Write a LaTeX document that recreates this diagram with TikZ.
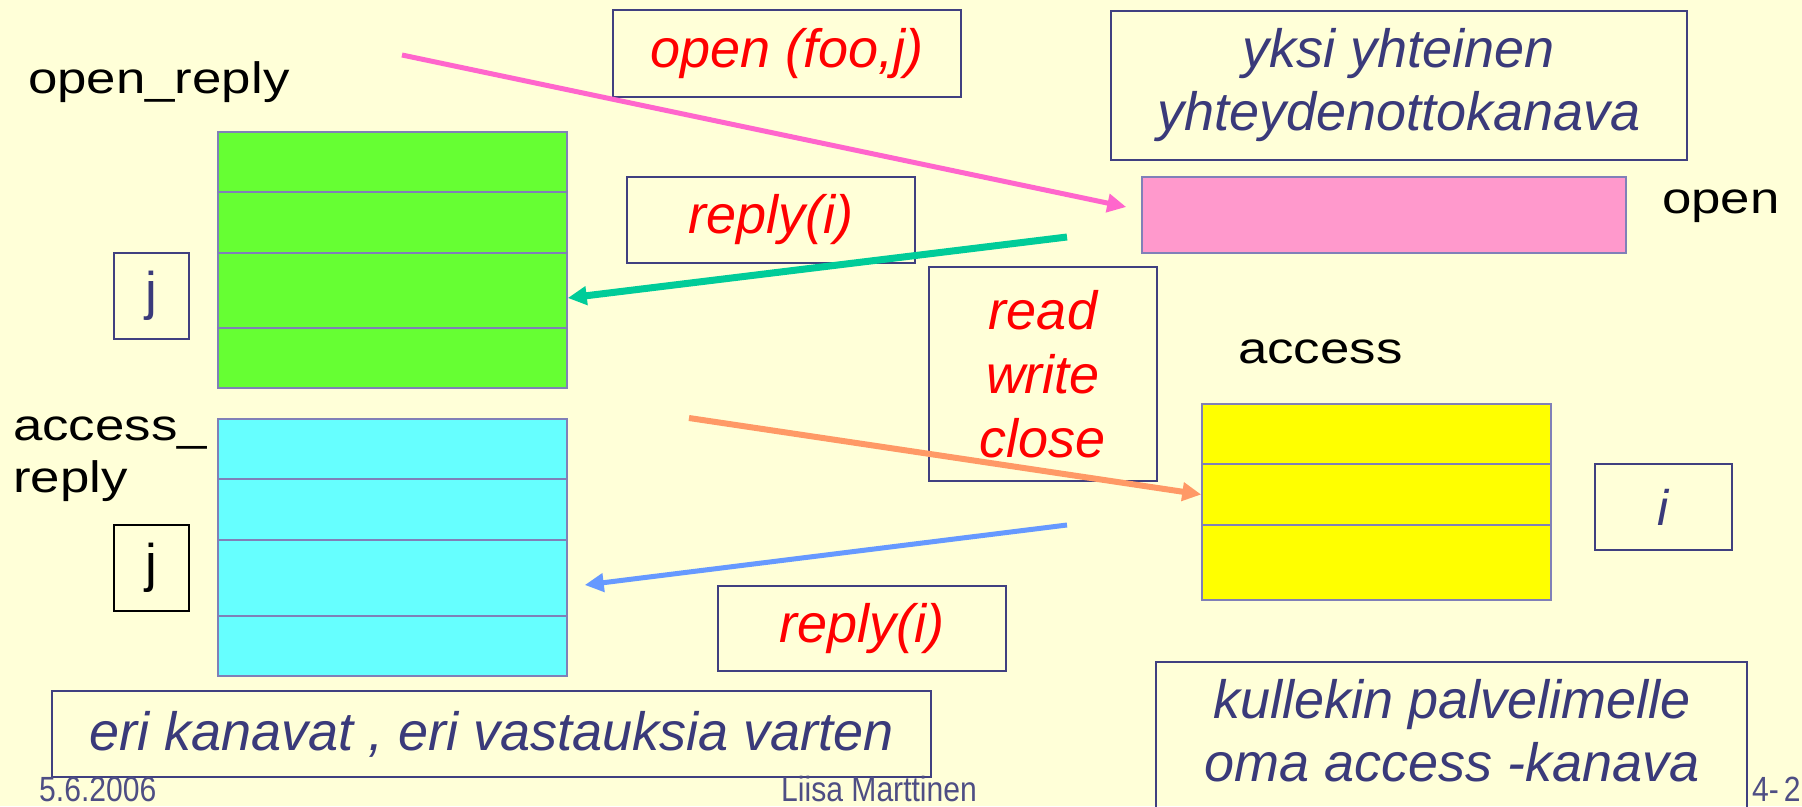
\documentclass[tikz,border=0pt]{standalone}
\usepackage{fontspec}
\setmainfont{Liberation Sans}
\newfontfamily\lblfont[FakeStretch=1.2]{Liberation Sans}
\newfontfamily\footfont[FakeStretch=0.86]{Liberation Sans}
\usetikzlibrary{arrows.meta}

\definecolor{pagebg}{RGB}{255,255,216}
\definecolor{boxline}{RGB}{64,64,128}
\definecolor{navy}{RGB}{58,58,122}
\definecolor{footblue}{RGB}{78,78,132}
\definecolor{cellline}{RGB}{128,128,184}
\definecolor{greencell}{RGB}{102,255,51}
\definecolor{cyancell}{RGB}{102,255,255}
\definecolor{pinkcell}{RGB}{255,153,204}
\definecolor{yellowcell}{RGB}{255,255,0}
\definecolor{pinkarrow}{RGB}{255,102,204}
\definecolor{tealarrow}{RGB}{0,204,153}
\definecolor{orangearrow}{RGB}{255,153,102}
\definecolor{bluearrow}{RGB}{102,153,255}

\tikzset{
  bx/.style={draw=boxline, line width=2pt, inner sep=0pt},
  redtxt/.style={text=red, font=\fontsize{54pt}{64pt}\selectfont\itshape, align=center},
  bluetxt/.style={text=navy, font=\fontsize{54pt}{63pt}\selectfont\itshape, align=center},
  lbl/.style={text=black, font=\lblfont\fontsize{44pt}{52pt}\selectfont, inner sep=0pt},
  foot/.style={text=footblue, font=\footfont\fontsize{35pt}{40pt}\selectfont, inner sep=0pt},
  cell/.style={draw=cellline, line width=1.5pt, minimum width=349pt, inner sep=0pt},
  conn/.style={line width=#1, -{Triangle[length=19pt,width=18pt]}},
}

\begin{document}
\begin{tikzpicture}[x=1pt,y=-1pt]
\fill[pagebg] (0,0) rectangle (1802,806);
\useasboundingbox (0,0) rectangle (1802,806);

% reply channels of the client
\node[lbl, anchor=base west] (openreplylbl) at (28,93) {open\_reply};
\node[cell, fill=greencell, minimum height=60pt] (g1) at (392.5,162) {};
\node[cell, fill=greencell, minimum height=61pt] (g2) at (392.5,222.5) {};
\node[cell, fill=greencell, minimum height=75pt] (g3) at (392.5,290.5) {};
\node[cell, fill=greencell, minimum height=60pt] (g4) at (392.5,358) {};
\node[bx, minimum width=75pt, minimum height=86pt, text=navy,
      font=\fontsize{53pt}{60pt}\selectfont] (j1) at (151,296) {j};

\node[lbl, anchor=base west] (accreply1) at (13,440) {access\_};
\node[lbl, anchor=base west] (accreply2) at (13,492) {reply};
\node[cell, fill=cyancell, minimum height=60pt] (c1) at (392.5,449) {};
\node[cell, fill=cyancell, minimum height=61pt] (c2) at (392.5,509.5) {};
\node[cell, fill=cyancell, minimum height=76pt] (c3) at (392.5,578) {};
\node[cell, fill=cyancell, minimum height=60pt] (c4) at (392.5,646) {};
\node[draw=black, line width=2pt, inner sep=0pt, minimum width=75pt, minimum height=86pt,
      text=black, font=\fontsize{53pt}{60pt}\selectfont] (j2) at (151,568) {j};

% message boxes
\node[bx, redtxt, minimum width=348pt, minimum height=87pt] (openfoo) at (787,53.5) {open (foo,j)};
\node[bx, redtxt, minimum width=288pt, minimum height=86pt] (reply1) at (771,220) {reply(i)};
\node[bx, redtxt, minimum width=228pt, minimum height=214pt] (rwc) at (1043,374) {read\\write\\close};
\node[bx, redtxt, minimum width=288pt, minimum height=85pt] (reply2) at (862,628.5) {reply(i)};

% server side channels
\node[bx, bluetxt, minimum width=576pt, minimum height=149pt] (yksi) at (1399,85.5) {yksi yhteinen\\yhteydenottokanava};
\node[cell, fill=pinkcell, minimum width=484pt, minimum height=76pt] (openq) at (1384,215) {};
\node[lbl, anchor=base west] (openlbl) at (1662,213) {open};

\node[lbl, anchor=base west] (accesslbl) at (1238,363) {access};
\node[cell, fill=yellowcell, minimum height=60pt] (y1) at (1376.5,434) {};
\node[cell, fill=yellowcell, minimum height=61pt] (y2) at (1376.5,494.5) {};
\node[cell, fill=yellowcell, minimum height=75pt] (y3) at (1376.5,562.5) {};
\node[bx, minimum width=137pt, minimum height=86pt, text=navy,
      font=\fontsize{50pt}{58pt}\selectfont\itshape] (ibox) at (1663.5,507) {i};

% notes
\node[bx, bluetxt, minimum width=879pt, minimum height=86pt] (eri) at (491.5,734) {eri kanavat , eri vastauksia varten};
\node[bx, minimum width=591pt, minimum height=200pt, anchor=north] (kul) at (1451.5,661) {};
\node[bluetxt, inner sep=0pt] (kultxt) at (1452,731) {kullekin palvelimelle\\oma access -kanava};

% footer
\node[foot, anchor=base west] (date) at (39,801) {5.6.2006};
\node[foot, anchor=base west] (author) at (781,801) {Liisa Marttinen};
\node[foot, anchor=base west] (page) at (1752,801) {4-\hspace{5pt}2};

% messages
\coordinate (ps) at (402,55);
\coordinate (ts) at (1067,237);
\coordinate (os) at (689,418);
\coordinate (bs) at (1067,525);
\draw[conn=5pt, pinkarrow] (ps) -- ([xshift=-15pt,yshift=8pt]openq.west);
\draw[conn=7pt, tealarrow] (ts) -- ([yshift=-7.5pt]g3.east);
\draw[conn=6pt, orangearrow] (os) -- (y2.west);
\draw[conn=5pt, bluearrow] (bs) -- ([xshift=17pt,yshift=-7pt]c3.east);
\end{tikzpicture}
\end{document}
